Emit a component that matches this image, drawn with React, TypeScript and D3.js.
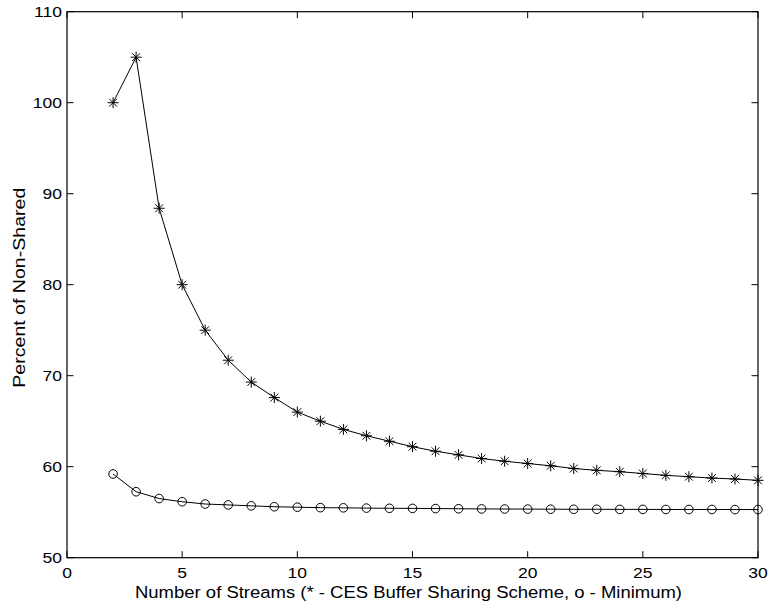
import React from 'react';
import * as d3 from 'd3';

// number of streams
const streams = [2, 3, 4, 5, 6, 7, 8, 9, 10, 11, 12, 13, 14, 15, 16, 17, 18, 19, 20, 21, 22, 23, 24, 25, 26, 27, 28, 29, 30];

// * - CES buffer sharing scheme
const cesValues = [100, 105, 88.4, 80.0, 75.0, 71.7, 69.3, 67.6, 66.0, 65.0, 64.1, 63.4, 62.8, 62.2, 61.7, 61.3, 60.9, 60.6, 60.35, 60.1, 59.8, 59.6, 59.45, 59.25, 59.05, 58.9, 58.75, 58.65, 58.5];

// o - minimum
const minValues = [59.2, 57.25, 56.5, 56.15, 55.9, 55.8, 55.7, 55.6, 55.55, 55.5, 55.48, 55.45, 55.43, 55.42, 55.4, 55.38, 55.36, 55.35, 55.34, 55.33, 55.32, 55.32, 55.31, 55.31, 55.3, 55.3, 55.3, 55.29, 55.29];

const xTicks = [0, 5, 10, 15, 20, 25, 30];
const yTicks = [50, 60, 70, 80, 90, 100, 110];

const xLabel = 'Number of Streams (* - CES Buffer Sharing Scheme, o - Minimum)';
const yLabel = 'Percent of Non-Shared';

export default function App() {
  const W = 769, H = 609;
  const margin = {top: 11.7, right: 11, bottom: 51.3, left: 67};
  const width = W - margin.left - margin.right;
  const height = H - margin.top - margin.bottom;

  const x = d3.scaleLinear().domain([0, 30]).range([0, width]);
  const y = d3.scaleLinear().domain([50, 110]).range([height, 0]);

  const line = d3.line<number>()
    .x((d, i) => x(streams[i]))
    .y(d => y(d));

  const font = 'Arial, "Liberation Sans", Helvetica, sans-serif';
  const tk = 6.5;
  const sr = 5.5; // star arm
  const cr = 4.3; // circle radius
  const stretch = 1.13; // labels are a bit wider than plain Arial

  const star = (cx: number, cy: number, k: number) => {
    const segs = [0, 45, 90, 135].map(a => {
      const rad = a * Math.PI / 180;
      const dx = Math.cos(rad) * sr, dy = Math.sin(rad) * sr;
      return `M${cx - dx},${cy - dy}L${cx + dx},${cy + dy}`;
    });
    return <path key={k} d={segs.join('')} stroke="#000" strokeWidth={1} fill="none"/>;
  };

  return (
    <svg width={W} height={H} style={{position: 'absolute', left: 0, top: 0, background: '#fff'}}
         fontFamily={font}>
      <rect width={W} height={H} fill="#fff"/>
      <g transform={`translate(${margin.left},${margin.top})`}>
        {/* ticks on all four sides */}
        {xTicks.map(t => (
          <g key={'x' + t}>
            <line x1={x(t)} x2={x(t)} y1={height} y2={height - tk} stroke="#000"/>
            <line x1={x(t)} x2={x(t)} y1={0} y2={tk} stroke="#000"/>
            <g transform={`translate(${x(t)},${height + 20.5}) scale(${stretch},1)`}>
              <text textAnchor="middle" fontSize={15.5} fill="#000">{t}</text>
            </g>
          </g>
        ))}
        {yTicks.map(t => (
          <g key={'y' + t}>
            <line x1={0} x2={tk} y1={y(t)} y2={y(t)} stroke="#000"/>
            <line x1={width} x2={width - tk} y1={y(t)} y2={y(t)} stroke="#000"/>
            <g transform={`translate(-5,${y(t) + 5.6}) scale(${stretch},1)`}>
              <text textAnchor="end" fontSize={15.5} fill="#000">{t}</text>
            </g>
          </g>
        ))}
        <rect x={0} y={0} width={width} height={height} fill="none" stroke="#000" strokeWidth={1.2}/>

        <path d={line(cesValues) || ''} fill="none" stroke="#000" strokeWidth={1}/>
        <path d={line(minValues) || ''} fill="none" stroke="#000" strokeWidth={1}/>

        {cesValues.map((v, i) => star(x(streams[i]), y(v), i))}
        {minValues.map((v, i) => (
          <circle key={i} cx={x(streams[i])} cy={y(v)} r={cr} fill="none" stroke="#000" strokeWidth={1}/>
        ))}

        <text x={width / 2 - 4} y={height + 40} textAnchor="middle" fontSize={16.3} fill="#000"
              textLength={547} lengthAdjust="spacingAndGlyphs">{xLabel}</text>
        <text transform={`translate(-42,${height / 2 + 3}) rotate(-90)`} textAnchor="middle" fontSize={17}
              fill="#000" textLength={200} lengthAdjust="spacingAndGlyphs">{yLabel}</text>
      </g>
    </svg>
  );
}
